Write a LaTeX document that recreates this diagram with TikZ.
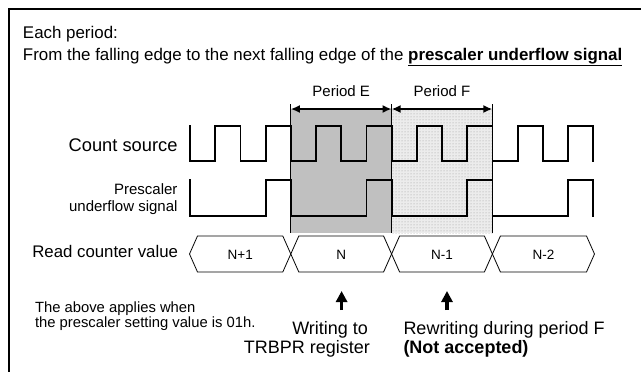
\documentclass[tikz,border=0pt]{standalone}
\usepackage{fontspec}
\setmainfont{Liberation Sans}
\usetikzlibrary{arrows.meta,patterns}
\newcommand\fsz[1]{\fontsize{#1}{#1}\selectfont}
\definecolor{grayE}{RGB}{192,192,192}
\definecolor{grayF}{RGB}{236,236,236}
\begin{document}
\begin{tikzpicture}[x=1pt,y=-1pt,
  sig/.style={line width=1.8pt, line join=miter, line cap=rect},
  hexa/.style={line width=0.8pt, line join=miter},
  bound/.style={line width=0.9pt},
  per/.style={line width=2pt, {Latex[length=9pt,width=8pt]}-{Latex[length=9pt,width=8pt]}},
  upar/.style={line width=3.2pt, -{Triangle[length=11pt,width=11pt]}},
  lbl/.style={inner sep=0pt, outer sep=0pt},
]
\useasboundingbox (0,0) rectangle (641,372);
% frame (only top and left sides visible)
\draw[line width=1.5pt] (9,372) -- (9,9) -- (641,9);

% header text
\node[lbl,anchor=base west,font=\fsz{16.9}] (h1) at (23,38) {Each period:};
\node[lbl,anchor=base west,font=\fsz{16.9}] (h2) at (23,60) {From the falling edge to the next falling edge of the \underline{\textbf{prescaler underflow signal}}};

% shaded periods
\fill[grayE] (290.8,109) rectangle (391.6,233);
\fill[grayF] (391.6,109) rectangle (492.4,233);
\fill[pattern=dots, pattern color=gray!80] (391.6,109) rectangle (492.4,233);
\draw[bound] (290.8,104) -- (290.8,233);
\draw[bound] (391.6,104) -- (391.6,233);
\draw[bound] (492.4,104) -- (492.4,233);

% period arrows
\coordinate (a0) at (290.8,109);
\coordinate (a1) at (391.6,109);
\coordinate (a2) at (492.4,109);
\draw[per] (a0) -- (a1);
\draw[per] (a1) -- (a2);
\node[lbl,anchor=base,font=\fsz{15}] (pE) at (341.2,96) {Period E};
\node[lbl,anchor=base,font=\fsz{15}] (pF) at (442,96) {Period F};

% row labels
\node[lbl,anchor=base east,font=\fsz{18.3}] (lc) at (177.5,151) {Count source};
\node[lbl,anchor=base east,font=\fsz{15}] (lp1) at (177.5,194) {Prescaler};
\node[lbl,anchor=base east,font=\fsz{15}] (lp2) at (177.5,211) {underflow signal};
\node[lbl,anchor=base east,font=\fsz{16.8}] (lr) at (178,257.5) {Read counter value};

% count source
\draw[sig] (190,126) -- (190,161) -- (215.2,161) -- (215.2,126) -- (240.4,126) -- (240.4,161) -- (265.6,161) -- (265.6,126) -- (290.8,126) -- (290.8,161) -- (316,161) -- (316,126) -- (341.2,126) -- (341.2,161) -- (366.4,161) -- (366.4,126) -- (391.6,126) -- (391.6,161) -- (416.8,161) -- (416.8,126) -- (442,126) -- (442,161) -- (467.2,161) -- (467.2,126) -- (492.4,126) -- (492.4,161) -- (517.6,161) -- (517.6,126) -- (542.8,126) -- (542.8,161) -- (568,161) -- (568,126) -- (593.2,126) -- (593.2,161);

% prescaler underflow signal
\draw[sig] (190,180) -- (190,216) -- (265.6,216) -- (265.6,180) -- (290.8,180) -- (290.8,216) -- (366.4,216) -- (366.4,180) -- (391.6,180) -- (391.6,216) -- (467.2,216) -- (467.2,180) -- (492.4,180) -- (492.4,216) -- (568,216) -- (568,180) -- (593.2,180) -- (593.2,216);

% read counter value hexagons
\foreach \a/\b in {189.5/290.8, 290.8/391.6, 391.6/492.4, 492.4/594.5}{
  \draw[hexa] (\a,254) -- (\a+8,236) -- (\b-8,236) -- (\b,254) -- (\b-8,272) -- (\a+8,272) -- cycle;
}
\node[lbl,anchor=base,font=\fsz{13.5}] (v1) at (240.2,259) {N+1};
\node[lbl,anchor=base,font=\fsz{13.5}] (v2) at (341.2,259) {N};
\node[lbl,anchor=base,font=\fsz{13.5}] (v3) at (442,259) {N-1};
\node[lbl,anchor=base,font=\fsz{13.5}] (v4) at (543.4,259) {N-2};

% up arrows
\coordinate (w0) at (341.6,310);
\coordinate (w1) at (341.6,291);
\coordinate (r0) at (447,310);
\coordinate (r1) at (447,291);
\draw[upar] (w0) -- (w1);
\draw[upar] (r0) -- (r1);

% notes
\node[lbl,anchor=base west,font=\fsz{14.8}] (n1) at (35,312.5) {The above applies when};
\node[lbl,anchor=base west,font=\fsz{14.8}] (n2) at (35,327) {the prescaler setting value is 01h.};
\node[lbl,anchor=base east,font=\fsz{18}] (t1) at (368,334) {Writing to};
\node[lbl,anchor=base east,font=\fsz{18}] (t2) at (370,353.3) {TRBPR register};
\node[lbl,anchor=base west,font=\fsz{18}] (t3) at (403.5,334) {Rewriting during period F};
\node[lbl,anchor=base west,font=\fsz{18}] (t4) at (403.5,353.3) {\textbf{(Not accepted)}};
\end{tikzpicture}
\end{document}
